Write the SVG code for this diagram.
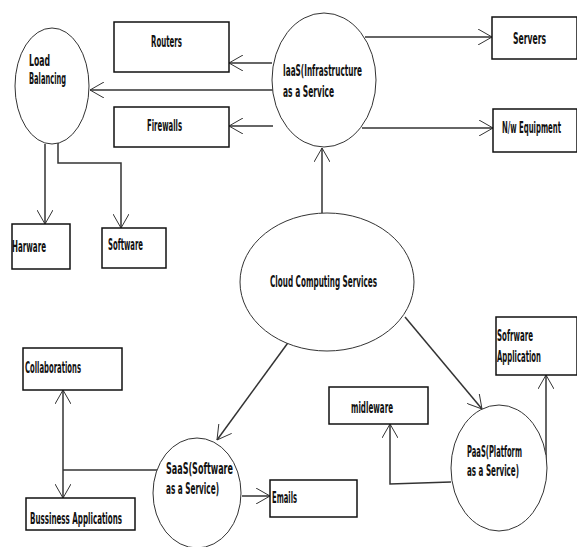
<svg xmlns="http://www.w3.org/2000/svg" width="577" height="547" viewBox="0 0 577 547">
<style>
.box{fill:#fff;stroke:#111;stroke-width:1.5}
.ell{fill:#fff;stroke:#333;stroke-width:1}
.t{font-family:"DejaVu Sans Condensed","Liberation Sans",sans-serif;font-weight:bold;font-size:15px;fill:#111}
.c{fill:none;stroke:#333;stroke-width:1.5}
</style>
<defs>
<marker id="ah" viewBox="0 0 14 16" refX="14" refY="8" markerWidth="14" markerHeight="16" markerUnits="userSpaceOnUse" orient="auto-start-reverse">
<path d="M0,0 L14,8 L0,16" fill="none" stroke="#333" stroke-width="1"/>
</marker>
</defs>
<rect width="577" height="547" fill="#fff"/>
<g id="connectors">
<line class="c" x1="272" y1="63" x2="229" y2="63" marker-end="url(#ah)"/>
<line class="c" x1="273" y1="90" x2="90" y2="90" marker-end="url(#ah)"/>
<line class="c" x1="273" y1="126" x2="229" y2="126" marker-end="url(#ah)"/>
<line class="c" x1="365" y1="37" x2="492" y2="37" marker-end="url(#ah)"/>
<line class="c" x1="362" y1="128" x2="493" y2="128" marker-end="url(#ah)"/>
<line class="c" x1="322" y1="213" x2="322" y2="148" marker-end="url(#ah)"/>
<line class="c" x1="45" y1="144" x2="45" y2="224" marker-end="url(#ah)"/>
<polyline class="c" points="58,143 58,163 121,163 121,228" marker-end="url(#ah)"/>
<line class="c" x1="290" y1="340" x2="217" y2="440" marker-end="url(#ah)"/>
<line class="c" x1="405" y1="317" x2="482" y2="409" marker-end="url(#ah)"/>
<line class="c" x1="157" y1="470" x2="63" y2="470"/>
<line class="c" x1="63" y1="390" x2="63" y2="498" marker-start="url(#ah)" marker-end="url(#ah)"/>
<line class="c" x1="242" y1="496" x2="270" y2="496" marker-end="url(#ah)"/>
<polyline class="c" points="451,482 390,484 390,424" marker-end="url(#ah)"/>
<line class="c" x1="546" y1="468" x2="546" y2="375" marker-end="url(#ah)"/>
</g>
<g id="load-balancing"><ellipse class="ell" cx="52" cy="86" rx="37" ry="58"/>
<text class="t" x="29" y="66" textLength="21" lengthAdjust="spacingAndGlyphs">Load</text>
<text class="t" x="29" y="84" textLength="37" lengthAdjust="spacingAndGlyphs">Balancing</text></g>
<g id="routers"><rect class="box" x="114" y="22" width="115" height="50"/>
<text class="t" x="151" y="47" textLength="31" lengthAdjust="spacingAndGlyphs">Routers</text></g>
<g id="firewalls"><rect class="box" x="114" y="107" width="115" height="40"/>
<text class="t" x="147" y="131" textLength="35" lengthAdjust="spacingAndGlyphs">Firewalls</text></g>
<g id="iaas"><ellipse class="ell" cx="324" cy="80" rx="52" ry="67"/>
<text class="t" x="283" y="76" textLength="79" lengthAdjust="spacingAndGlyphs">IaaS(Infrastructure</text>
<text class="t" x="283" y="97" textLength="51" lengthAdjust="spacingAndGlyphs">as a Service</text></g>
<g id="servers"><rect class="box" x="492" y="17" width="85" height="42"/>
<text class="t" transform="translate(513,44) scale(0.5,1)" textLength="66" lengthAdjust="spacingAndGlyphs">Servers</text></g>
<g id="nw-equipment"><rect class="box" x="493" y="109" width="84" height="43"/>
<text class="t" transform="translate(502,133) scale(0.5,1)" textLength="118" lengthAdjust="spacingAndGlyphs">N/w Equipment</text></g>
<g id="harware"><rect class="box" x="12" y="224" width="58" height="45"/>
<text class="t" x="12" y="252" textLength="34" lengthAdjust="spacingAndGlyphs">Harware</text></g>
<g id="software"><rect class="box" x="102" y="228" width="64" height="40"/>
<text class="t" x="108" y="250" textLength="35" lengthAdjust="spacingAndGlyphs">Software</text></g>
<g id="cloud"><ellipse class="ell" cx="327" cy="282" rx="87" ry="69"/>
<text class="t" x="270" y="287" textLength="107" lengthAdjust="spacingAndGlyphs">Cloud Computing Services</text></g>
<g id="collaborations"><rect class="box" x="23" y="348" width="99" height="42"/>
<text class="t" x="25" y="373" textLength="56" lengthAdjust="spacingAndGlyphs">Collaborations</text></g>
<g id="bussiness"><rect class="box" x="26" y="498" width="109" height="32"/>
<text class="t" x="30" y="524" textLength="92" lengthAdjust="spacingAndGlyphs">Bussiness Applications</text></g>
<g id="saas"><ellipse class="ell" cx="197" cy="493" rx="44" ry="55"/>
<text class="t" x="166" y="474" textLength="67" lengthAdjust="spacingAndGlyphs">SaaS(Software</text>
<text class="t" x="166" y="494" textLength="53" lengthAdjust="spacingAndGlyphs">as a Service)</text></g>
<g id="emails"><rect class="box" x="270" y="480" width="87" height="37"/>
<text class="t" x="272" y="503" textLength="25" lengthAdjust="spacingAndGlyphs">Emails</text></g>
<g id="software-application"><rect class="box" x="496" y="317" width="81" height="58"/>
<text class="t" transform="translate(497,341) scale(0.5,1)" textLength="72" lengthAdjust="spacingAndGlyphs">Sofrware</text>
<text class="t" transform="translate(497,362) scale(0.5,1)" textLength="88" lengthAdjust="spacingAndGlyphs">Application</text></g>
<g id="midleware"><rect class="box" x="329" y="387" width="99" height="37"/>
<text class="t" x="351" y="413" textLength="42" lengthAdjust="spacingAndGlyphs">midleware</text></g>
<g id="paas"><ellipse class="ell" cx="499" cy="468" rx="48" ry="63"/>
<text class="t" x="467" y="457" textLength="55" lengthAdjust="spacingAndGlyphs">PaaS(Platform</text>
<text class="t" x="467" y="476" textLength="52" lengthAdjust="spacingAndGlyphs">as a Service)</text></g>
</svg>
